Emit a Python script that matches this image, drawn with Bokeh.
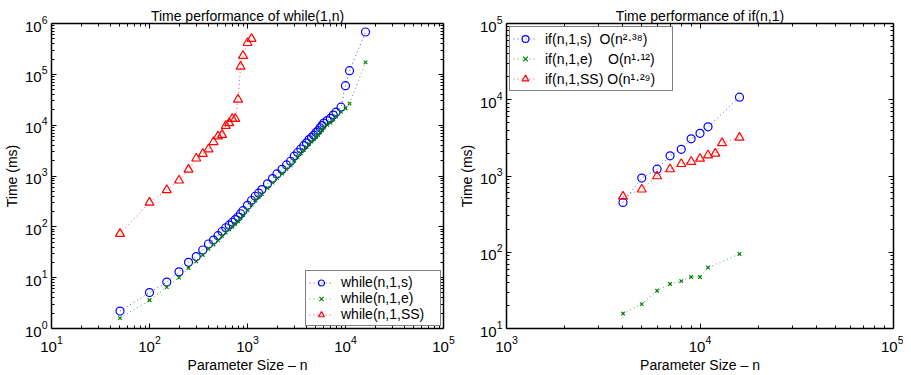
from bokeh.plotting import figure
from bokeh.layouts import row
from bokeh.models import (LogAxis, FixedTicker, Legend, LegendItem, CustomJSTickFormatter)
from bokeh.embed import file_html
from bokeh.resources import INLINE

# ---------------- data: left panel (while) ----------------
n_while = [50, 100, 150, 200, 250, 300, 350, 400, 450, 500, 550, 600, 650, 700, 750, 800, 850, 900,
           1000, 1100, 1200, 1300, 1400, 1600, 1800, 2000, 2250, 2500, 2750, 3000, 3250, 3500, 3750,
           4000, 4250, 4500, 4750, 5000, 5250, 5500, 5750, 6000, 6500, 7000, 7500, 8000, 9000,
           10000, 11000, 16000]
t_while_s = [2.2, 5.1, 8.2, 13, 20, 26, 35, 46, 55, 67, 81, 96, 108, 123, 139, 156, 181, 208,
             265, 330, 400, 460, 540, 700, 890, 1100, 1350, 1650, 1950, 2450, 2900, 3400, 3950,
             4500, 5200, 5750, 6350, 7200, 7800, 8900, 9800, 11000, 12300, 13600, 15800, 18000, 22600,
             59800, 118000, 680000]
t_while_e = [1.6, 3.6, 6.5, 10, 15.5, 21, 28, 37, 45, 55, 66, 78, 89, 101, 115, 129, 148, 170,
             215, 270, 330, 385, 445, 580, 740, 910, 1120, 1370, 1620, 2000, 2380, 2800, 3250,
             3700, 4250, 4750, 5250, 5900, 6400, 7300, 8000, 9000, 10100, 11200, 13000, 14800, 18300,
             21500, 26500, 172000]
n_while_ss = [50, 100, 150, 200, 250, 300, 350, 400, 450, 500, 550, 600, 650, 700, 750, 800, 850, 900,
              1000, 1100]
t_while_ss = [73, 300, 530, 820, 1340, 2220, 2740, 3370, 4680, 6030, 6470, 9700, 11000, 13400, 13400,
              32000, 142000, 232000, 415000, 500000]

# ---------------- data: right panel (if) ----------------
n_if = [4000, 5000, 6000, 7000, 8000, 9000, 10000, 11000, 16000]
t_if_s = [450, 940, 1230, 1840, 2240, 3070, 3630, 4420, 10800]
t_if_e = [15.7, 20.9, 31.3, 38.3, 41.8, 47.3, 47.3, 63, 95]
n_if_ss = [4000, 5000, 6000, 7000, 8000, 9000, 10000, 11000, 12000, 13000, 16000]
t_if_ss = [538, 667, 996, 1230, 1440, 1540, 1690, 1875, 1970, 2700, 3190]

labels_left = ["while(n,1,s)", "while(n,1,e)", "while(n,1,SS)"]
labels_right = ["if(n,1,s)", "if(n,1,e)", "if(n,1,SS)"]
orders_right = ["2.38", "1.12", "1.29"]
gaps_right = [2, 4, 1]   # spaces between the label and the O(n^k) term

FONT = "Liberation Sans"
BLUE, GREEN, RED = "#0000ff", "#008000", "#ff0000"
SUP = str.maketrans("0123456789.", "\u2070\u00b9\u00b2\u00b3\u2074\u2075\u2076\u2077\u2078\u2079\u00b7")


def decade_ticks(lo, hi):
    major = [10.0 ** k for k in range(lo, hi + 1)]
    minor = [m * 10.0 ** k for k in range(lo, hi) for m in range(2, 10)]
    return FixedTicker(ticks=major, minor_ticks=minor)


def style_axis(ax):
    ax.axis_line_width = 1.5
    ax.axis_line_color = "black"
    ax.major_tick_in = 5
    ax.major_tick_out = 0
    ax.minor_tick_in = 3
    ax.minor_tick_out = 0
    ax.major_tick_line_color = "black"
    ax.minor_tick_line_color = "black"
    ax.axis_label_text_font = FONT
    ax.axis_label_text_font_size = "14px"
    ax.axis_label_text_font_style = "normal"
    ax.axis_label_text_color = "black"
    ax.axis_label_standoff = 2
    ax.major_label_text_font = FONT
    ax.major_label_text_font_size = "15px"
    ax.major_label_text_color = "black"
    ax.major_label_standoff = 4


def make_fig(xr, yr, xdec, ydec, width, bl, br, title):
    p = figure(width=width, height=375, x_axis_type="log", y_axis_type="log",
               x_range=xr, y_range=yr, output_backend="svg", toolbar_location=None,
               min_border_left=bl, min_border_right=br, min_border_top=23, min_border_bottom=43)
    p.title.text = title
    p.title.text_font = FONT
    p.title.text_font_size = "14px"
    p.title.text_font_style = "normal"
    p.title.text_color = "black"
    p.title.align = "center"
    p.title.standoff = 0
    p.grid.visible = False
    p.outline_line_color = None
    p.xaxis.ticker = decade_ticks(*xdec)
    p.yaxis.ticker = decade_ticks(*ydec)
    p.xaxis.axis_label = "Parameter Size \u2013 n"
    p.yaxis.axis_label = "Time (ms)"
    for ax in p.xaxis + p.yaxis:
        style_axis(ax)
    p.xaxis.major_label_standoff = 7
    top = LogAxis(ticker=decade_ticks(*xdec), formatter=CustomJSTickFormatter(code="return ''"))
    right = LogAxis(ticker=decade_ticks(*ydec), formatter=CustomJSTickFormatter(code="return ''"))
    style_axis(top)
    style_axis(right)
    top.major_label_standoff = 0
    right.major_label_standoff = 0
    p.add_layout(top, "above")
    p.add_layout(right, "right")
    return p


def add_series(p, x, y, color, marker, size):
    ln = p.line(x, y, line_color=color, line_dash="1 3", line_width=1, line_alpha=0.7)
    sc = p.scatter(x, y, marker=marker, size=size, fill_color=None, line_color=color, line_width=1.2)
    return [ln, sc]


# ---------------- left figure ----------------
p1 = make_fig((10, 1e5), (1, 1e6), (1, 5), (0, 6), 455, 48, 12, "Time performance of while(1,n)")
r1 = add_series(p1, n_while, t_while_s, BLUE, "circle", 8)
r2 = add_series(p1, n_while, t_while_e, GREEN, "x", 5)
r3 = add_series(p1, n_while_ss, t_while_ss, RED, "triangle", 9)
leg1 = Legend(items=[LegendItem(label=labels_left[0], renderers=r1),
                     LegendItem(label=labels_left[1], renderers=r2),
                     LegendItem(label=labels_left[2], renderers=r3)],
              location="bottom_right", margin=2, padding=3, spacing=0,
              label_height=15, glyph_height=15, glyph_width=24, label_standoff=8,
              label_width=96,
              label_text_font=FONT, label_text_font_size="14px", label_text_color="black",
              border_line_color="black", border_line_width=1.5, background_fill_alpha=1)
p1.add_layout(leg1, "center")

# ---------------- right figure ----------------
p2 = make_fig((1e3, 1e5), (10, 1e5), (3, 5), (1, 5), 448, 46, 10, "Time performance of if(n,1)")
q1 = add_series(p2, n_if, t_if_s, BLUE, "circle", 8)
q2 = add_series(p2, n_if, t_if_e, GREEN, "x", 5)
q3 = add_series(p2, n_if_ss, t_if_ss, RED, "triangle", 9)

full_right = [lab + "\u00a0" * g + "O(n" + k.translate(SUP) + ")"
              for lab, g, k in zip(labels_right, gaps_right, orders_right)]
leg2 = Legend(items=[LegendItem(label=full_right[0], renderers=q1),
                     LegendItem(label=full_right[1], renderers=q2),
                     LegendItem(label=full_right[2], renderers=q3)],
              location="top_left", margin=3, padding=3, spacing=3,
              label_height=17, glyph_height=17, glyph_width=24, label_standoff=8,
              label_width=124,
              label_text_font=FONT, label_text_font_size="14px", label_text_color="black",
              border_line_color="black", border_line_width=1.5, background_fill_alpha=1)
p2.add_layout(leg2, "center")

layout = row(p1, p2)
open("out.html", "w").write(file_html(layout, INLINE))
